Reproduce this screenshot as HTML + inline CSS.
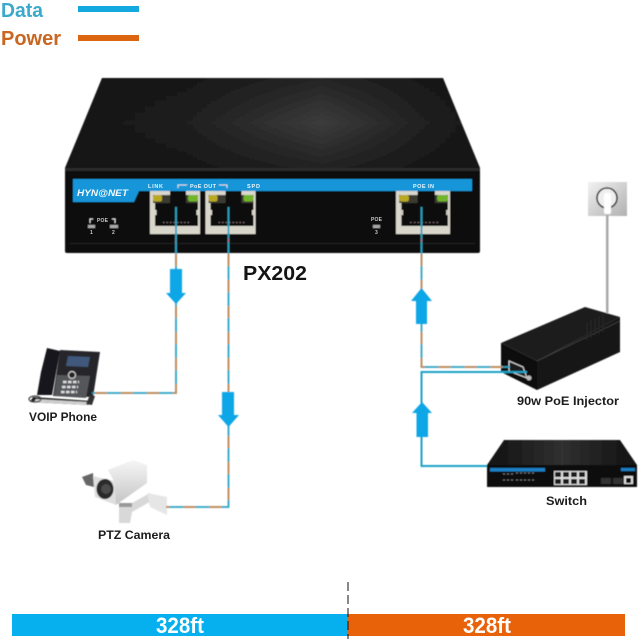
<!DOCTYPE html>
<html><head><meta charset="utf-8"><style>
html,body{margin:0;padding:0;background:#fff}
svg{display:block}
text{font-family:"Liberation Sans",sans-serif;font-weight:bold}
</style></head><body>
<svg width="640" height="639" viewBox="0 0 640 639" xmlns="http://www.w3.org/2000/svg">
<defs>
<linearGradient id="top" x1="0" y1="0" x2="1" y2="0"><stop offset="0" stop-color="#141414"/><stop offset="0.3" stop-color="#202020"/><stop offset="0.62" stop-color="#3c3c3c"/><stop offset="0.85" stop-color="#222"/><stop offset="1" stop-color="#161616"/></linearGradient>
<linearGradient id="fade" x1="0" y1="0" x2="0" y2="1"><stop offset="0" stop-color="#111" stop-opacity="0.55"/><stop offset="0.5" stop-color="#111" stop-opacity="0"/><stop offset="1" stop-color="#111" stop-opacity="0.6"/></linearGradient>
<linearGradient id="outlet" x1="0" y1="0" x2="1" y2="1"><stop offset="0" stop-color="#f2f2f2"/><stop offset="1" stop-color="#b0b0b0"/></linearGradient>
<linearGradient id="sw" x1="0" y1="0" x2="1" y2="0"><stop offset="0" stop-color="#111"/><stop offset="0.5" stop-color="#303030"/><stop offset="1" stop-color="#111"/></linearGradient>
<linearGradient id="cam" x1="0" y1="0" x2="0" y2="1"><stop offset="0" stop-color="#f6f6f6"/><stop offset="1" stop-color="#c4c4c4"/></linearGradient>
<filter id="s" x="-5%" y="-5%" width="110%" height="110%"><feGaussianBlur stdDeviation="0.5"/></filter>
<g id="port">
<rect x="0" y="0" width="50" height="43" fill="#d9d7cb"/>
<rect x="3" y="4" width="45" height="8" fill="#3b3b33"/>
<rect x="5" y="12" width="43" height="23" fill="#0c0c0c"/>
<rect x="20" y="0" width="16" height="14" fill="#0c0c0c"/>
<rect x="3" y="4" width="9" height="6.5" rx="2" fill="#b9a820"/>
<rect x="38" y="4" width="10" height="6.5" rx="2" fill="#71b52a"/>
<rect x="5" y="19" width="1.500" height="5" fill="#d9d7cb"/>
<rect x="46.500" y="19" width="1.500" height="5" fill="#d9d7cb"/>
<path d="M13 31.500H40" stroke="#7a6a6a" stroke-width="1" stroke-dasharray="1.500 2"/>
</g>
</defs>

<!-- legend -->
<text x="1" y="17" font-size="20" fill="#3ba9cc" textLength="42" lengthAdjust="spacingAndGlyphs">Data</text>
<rect x="78" y="6" width="61" height="6" fill="#12a9e0"/>
<text x="1" y="45" font-size="20" fill="#c9661f" textLength="60" lengthAdjust="spacingAndGlyphs">Power</text>
<rect x="78" y="35" width="61" height="6" fill="#dc6510"/>

<g filter="url(#s)">
<!-- main device -->
<polygon points="102,78 443,78 480,168 65,168" fill="url(#top)"/>
<polygon points="102,78 443,78 480,168 65,168" fill="url(#fade)"/>
<rect x="65" y="168" width="415" height="85" rx="2" fill="#101010"/>
<rect x="65" y="168" width="415" height="3" fill="#2c2c2c"/>
<rect x="70" y="243" width="405" height="1" fill="#222"/>
<polygon points="73,179 472,179 472,191 139,191 134,202 73,202" fill="#1296d8"/>
<use href="#port" x="150" y="191"/>
<use href="#port" x="205.500" y="191"/>
<use href="#port" transform="translate(396,191) scale(1.08,1)"/>
<rect x="88" y="225" width="7" height="3" fill="#aaa"/>
<rect x="110" y="225" width="8" height="3" fill="#aaa"/>
<rect x="373" y="225" width="7" height="3" fill="#aaa"/>
<path d="M90 223v-4h3M115 223v-4h-3M178 188v-3h9M219 185h8v3" fill="none" stroke="#ddd" stroke-width="1"/>

<!-- outlet -->
<rect x="588" y="182" width="39" height="34" fill="url(#outlet)"/>
<circle cx="607" cy="198" r="10" fill="#eee" stroke="#333" stroke-width="1.600"/>
<rect x="604" y="193" width="7" height="21" rx="2" fill="#fff"/>
<rect x="606" y="215" width="2.500" height="98" fill="#a8a8a8"/>

<!-- injector -->
<polygon points="501,343 585,307 620,317 537,361" fill="#1e1e1e"/>
<polygon points="537,361 620,317 620,352 537,390" fill="#131313"/>
<polygon points="501,343 537,361 537,390 501,372" fill="#0d0d0d"/>
<line x1="537" y1="361" x2="620" y2="321" stroke="#444" stroke-width="0.700"/>
<polygon points="509,361 523,367 527,378 509,371" fill="#1a1a1a" stroke="#ddd" stroke-width="1"/>
<circle cx="529" cy="378" r="2.500" fill="#bbb"/>
<path d="M587 340v-18M591 338v-18M595 336v-18M599 334v-18M603 332v-18" stroke="#272727" stroke-width="1"/>

<!-- switch -->
<polygon points="504,440 620,440 637,465 487,465" fill="url(#sw)"/>
<rect x="487" y="465" width="150" height="22" fill="#0d0d0d"/>
<rect x="490" y="468" width="55" height="3.500" fill="#1d7fc4"/>
<rect x="621" y="468" width="14" height="3" fill="#1d7fc4"/>
<rect x="554" y="471" width="33" height="14" fill="#ddd"/>
<path d="M555 472h6v5h-6zM563 472h6v5h-6zM571 472h6v5h-6zM579 472h6v5h-6zM555 479h6v5h-6zM563 479h6v5h-6zM571 479h6v5h-6zM579 479h6v5h-6z" fill="#1a1a1a"/>
<rect x="601" y="478" width="10" height="6" fill="#333"/>
<rect x="613" y="478" width="10" height="6" fill="#333"/>
<rect x="624" y="476" width="9" height="8" fill="#ddd"/><rect x="626" y="478" width="5" height="5" fill="#111"/>
<path d="M503 480h10M503 474h10M516 473h18M516 480h18" stroke="#777" stroke-width="1" stroke-dasharray="2 2"/>

<!-- phone -->
<polygon points="60,350 100,352 93,397 53,396" fill="#26272b"/>
<polygon points="47,348 60,351 52,395 37,395 41,372" fill="#15161a"/>
<polygon points="68,356 90,357 88,367 66,366" fill="#41597c"/>
<polygon points="57,375 90,376 86,398 54,396" fill="#55575a"/>
<circle cx="72" cy="375" r="3.500" fill="#222" stroke="#ccc" stroke-width="1.200"/>
<path d="M63 382h16M62 387h16M61 392h16" stroke="#ddd" stroke-width="2.600" stroke-dasharray="3.500 1.500"/>
<polygon points="33,397 92,401 88,405 30,402" fill="#222"/>
<polygon points="36,399 88,402 87,405 34,402" fill="#cfcfcf"/>
<ellipse cx="35" cy="399" rx="6" ry="3" fill="none" stroke="#444" stroke-width="1.200"/>
<polygon points="90,395 95,396 92,405 86,404" fill="#333"/>

<!-- camera -->
<polygon points="82,477 93,473 94,487 86,485" fill="#666"/>
<polygon points="108,470 133,460 147,465 147,483 116,505 114,481" fill="url(#cam)"/>
<polygon points="93,476 114,481 116,505 95,497" fill="#dedede"/>
<ellipse cx="105" cy="489" rx="8.500" ry="10" fill="#2a2a2a"/>
<circle cx="106" cy="489" r="5" fill="#4c4c4c"/>
<polygon points="119,503 132,503 150,493 155,499 132,512 130,523 119,523" fill="#d8d8d8"/>
<polygon points="147,493 167,497 167,515 150,507" fill="#e6e6e6"/>
<rect x="119" y="503" width="13" height="4" fill="#999"/>

<!-- wires -->
<g fill="none" stroke-width="1.800">
<path d="M176 207V393H92" stroke="#2ea3c4"/>
<path d="M176 254V393H92" stroke="#c98a52" stroke-dasharray="12 14"/>
<path d="M228.500 207V507H166" stroke="#2ea3c4"/>
<path d="M228.500 254V507H166" stroke="#c98a52" stroke-dasharray="12 14"/>
<path d="M421.500 207V367H510" stroke="#2ea3c4"/>
<path d="M421.500 254V367H510" stroke="#c98a52" stroke-dasharray="12 14"/>
<path d="M527 372H421.500V466H487" stroke="#1ba2c6" stroke-width="2"/>
</g>

<!-- arrows -->
<polygon points="170,269 182,269 182,293 186,293 176,304 166,293 170,293" fill="#0fa6e6"/>
<polygon points="222,392 234,392 234,415 239,415 228.500,427 218,415 222,415" fill="#0fa6e6"/>
<polygon points="416,324 427,324 427,301 432,301 421.500,288 411,301 416,301" fill="#0fa6e6"/>
<polygon points="416.500,437 428,437 428,413 432,413 422,402 412,413 416.500,413" fill="#0fa6e6"/>
</g>

<!-- device labels -->
<text x="148" y="188" font-size="5.500" fill="#e8f4fb" textLength="15">LINK</text>
<text x="190" y="188" font-size="5.500" fill="#e8f4fb" textLength="26">PoE OUT</text>
<text x="247" y="188" font-size="5.500" fill="#e8f4fb" textLength="13">SPD</text>
<text x="413" y="188" font-size="5.500" fill="#e8f4fb" textLength="21">POE IN</text>
<text x="77" y="196" font-size="9.500" fill="#f2f8fc" font-style="italic" textLength="51" lengthAdjust="spacingAndGlyphs">HYN@NET</text>
<text x="97" y="222" font-size="5" fill="#ccc" textLength="11">POE</text>
<text x="90" y="234" font-size="5" fill="#ccc">1</text>
<text x="112" y="234" font-size="5" fill="#ccc">2</text>
<text x="371" y="221" font-size="5" fill="#ccc" textLength="11">POE</text>
<text x="375" y="234" font-size="5" fill="#ccc">3</text>
<text x="174" y="242" font-size="5" fill="#d44">1</text>
<text x="227" y="242" font-size="5" fill="#d44">2</text>
<text x="420" y="242" font-size="5" fill="#d44">3</text>

<text x="243" y="280" font-size="20.500" fill="#141414" textLength="64" lengthAdjust="spacingAndGlyphs">PX202</text>
<text x="517" y="405" font-size="12" fill="#1c1c1c" textLength="102" lengthAdjust="spacingAndGlyphs">90w PoE Injector</text>
<text x="546" y="505" font-size="12" fill="#1c1c1c" textLength="41" lengthAdjust="spacingAndGlyphs">Switch</text>
<text x="29" y="421" font-size="12" fill="#1c1c1c" textLength="68" lengthAdjust="spacingAndGlyphs">VOIP Phone</text>
<text x="98" y="539" font-size="12" fill="#1c1c1c" textLength="72" lengthAdjust="spacingAndGlyphs">PTZ Camera</text>

<!-- distance bar -->
<rect x="12" y="614" width="336" height="22" fill="#06b0ee"/>
<rect x="348" y="614" width="277" height="22" fill="#e8620a"/>
<line x1="348" y1="582" x2="348" y2="639" stroke="#111" stroke-width="1" stroke-dasharray="9 4"/>
<text x="156" y="633" font-size="22" fill="#fff" textLength="48" lengthAdjust="spacingAndGlyphs">328ft</text>
<text x="463" y="633" font-size="22" fill="#fff" textLength="48" lengthAdjust="spacingAndGlyphs">328ft</text>
</svg>
</body></html>
